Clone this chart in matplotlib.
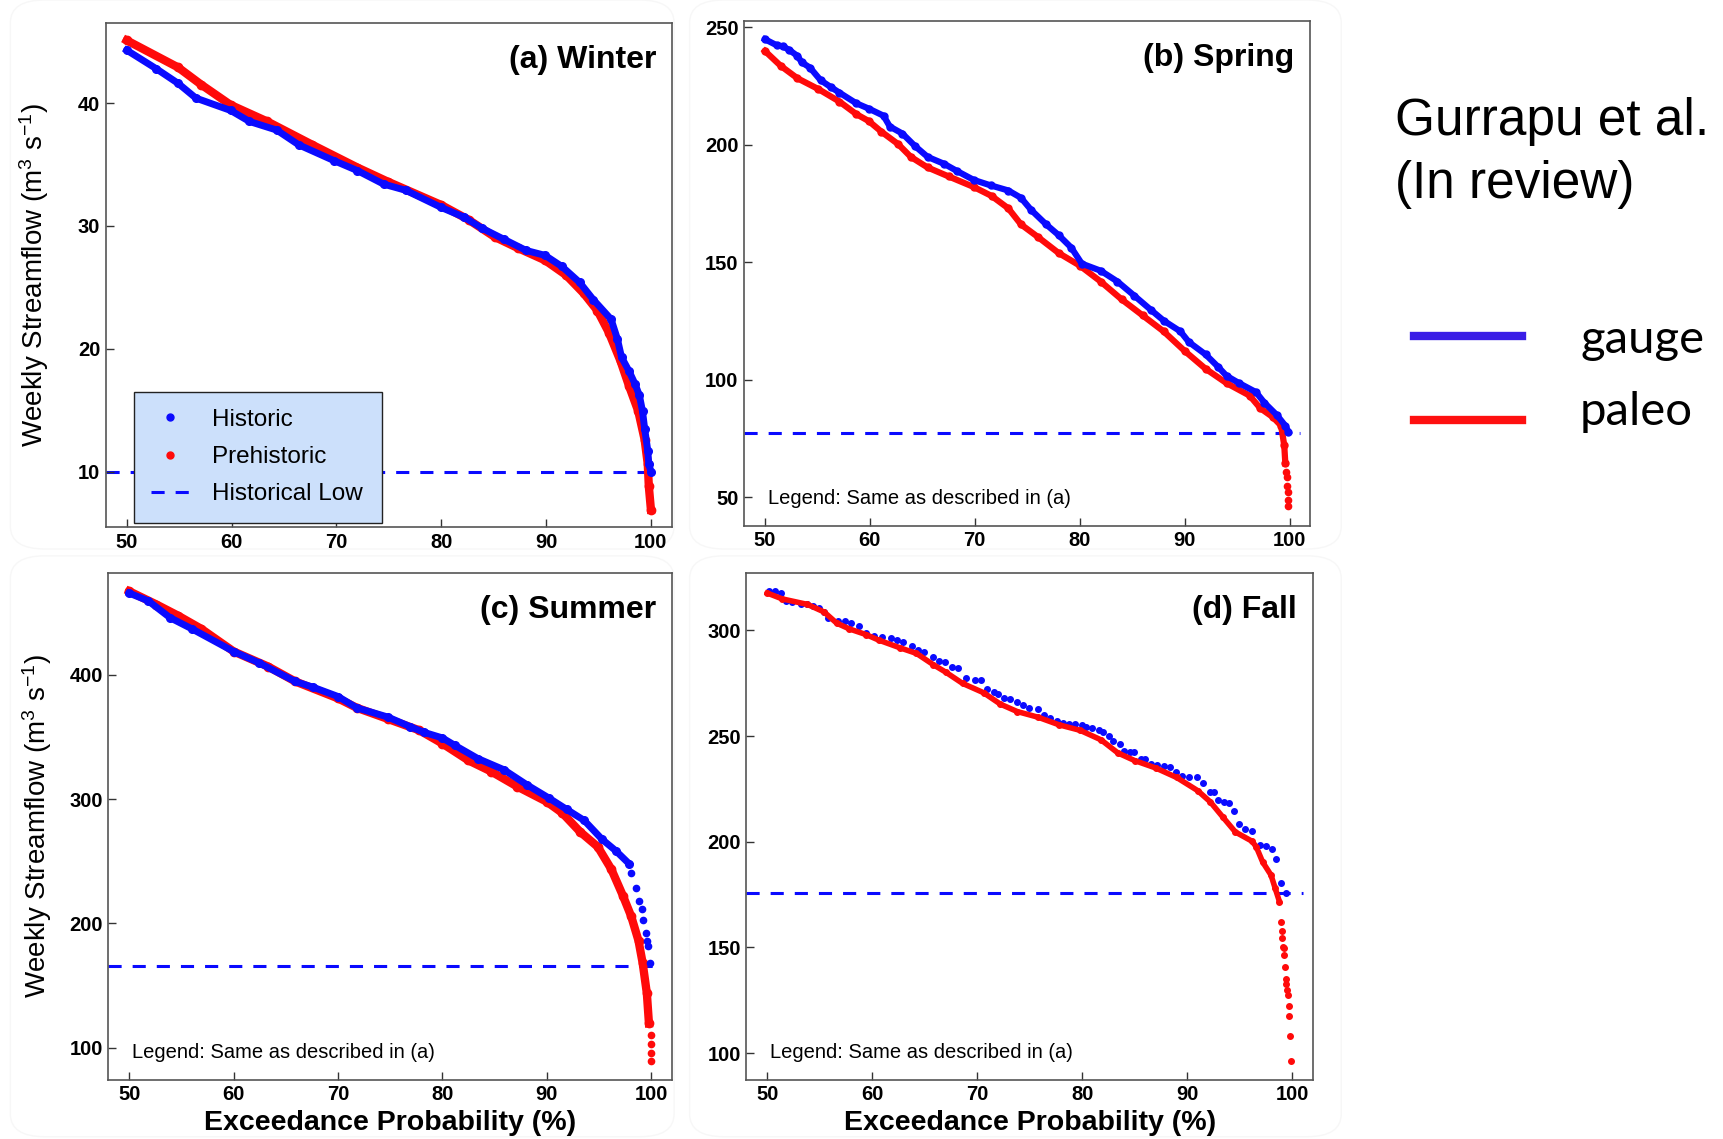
import matplotlib
matplotlib.use('Agg')
import matplotlib.pyplot as plt
from matplotlib.lines import Line2D
from matplotlib.patches import FancyBboxPatch

plt.rcParams['font.family'] = ['Liberation Sans', 'DejaVu Sans']
plt.rcParams['mathtext.fontset'] = 'custom'
plt.rcParams['mathtext.rm'] = 'Liberation Sans'
plt.rcParams['mathtext.it'] = 'Liberation Sans:italic'
plt.rcParams['mathtext.bf'] = 'Liberation Sans:bold'

BLUE = '#0a0aff'
RED = '#ff0a0a'

# ---- (a) Winter ----
winter_red_x = [50, 54.9, 57.1, 59.9, 63.4, 67.7, 72.0, 74.9, 80, 82.6, 85.1, 87.3, 89.9, 91.9,
                93.6, 94.9, 96.0, 97.1, 97.9, 98.8, 99.4, 99.7, 99.8, 100]
winter_red_y = [45.1, 42.9, 41.5, 39.85, 38.5, 36.6, 34.75, 33.6, 31.7, 30.5, 29.1, 28.2, 27.2, 26.0,
                24.5, 23.1, 21.3, 19.0, 17.0, 14.9, 12.6, 10.6, 8.8, 6.9]
winter_blue_x = [50, 52.8, 54.9, 56.6, 59.9, 61.7, 64.3, 66.4, 69.8, 72.0, 74.5, 76.6, 80, 82.2,
                 83.9, 86.0, 88.1, 89.9, 91.5, 93.2, 94.5, 96.2, 96.8, 97.2, 97.9, 98.5, 98.9,
                 99.2, 99.4, 99.7, 99.8, 100]
winter_blue_y = [44.3, 42.8, 41.6, 40.4, 39.4, 38.5, 37.8, 36.6, 35.3, 34.5, 33.4, 32.9, 31.5, 30.7,
                 29.8, 28.9, 28.0, 27.6, 26.7, 25.4, 24.0, 22.4, 20.8, 19.3, 18.2, 17.1, 16.2,
                 14.9, 13.5, 11.7, 10.6, 10.0]
winter_low = 10.0

# ---- (b) Spring ----
spring_blue_x = [50, 51.1, 51.7, 52.3, 53.1, 53.5, 54.3, 55.3, 56.3, 57.1, 58.7, 59.9, 61.3, 61.9,
                 63.1, 64.3, 65.5, 67.1, 68.3, 69.9, 71.5, 73.2, 74.4, 75.4, 76.8, 78.0, 79.2,
                 80.2, 82.0, 83.6, 85.2, 86.8, 88.0, 89.6, 90.4, 92.0, 93.2, 94.0, 95.2, 96.8,
                 97.6, 98.8, 99.6, 99.9]
spring_blue_y = [244.8, 242.3, 241.8, 240.3, 237.7, 235.0, 232.7, 227.4, 224.4, 222.1, 217.6, 215.3,
                 212.3, 207.7, 204.7, 199.4, 194.8, 191.8, 188.8, 185.0, 182.7, 180.5, 177.4,
                 172.1, 166.1, 161.5, 156.2, 149.4, 146.4, 141.8, 135.8, 129.7, 125.2, 120.6,
                 116.1, 110.8, 105.5, 101.7, 98.6, 94.8, 90.3, 85.0, 80.5, 77.9]
spring_red_x = [50, 51.5, 53.1, 55.1, 57.1, 58.7, 59.9, 61.1, 62.7, 63.9, 65.5, 67.5, 69.9, 71.6,
                73.2, 74.4, 76.0, 78.0, 80.0, 82.0, 84.0, 86.0, 88.0, 90.0, 92.0, 94.0, 96.2,
                97.2, 98.4, 99.2, 99.5, 99.6]
spring_red_y = [239.8, 233.5, 228.2, 223.6, 218.3, 213.0, 210.0, 205.5, 200.2, 194.8, 190.3, 186.5,
                182.0, 178.2, 172.9, 166.1, 160.8, 153.9, 148.6, 141.8, 134.2, 127.4, 120.6,
                112.3, 104.7, 98.6, 93.3, 88.0, 84.2, 80.5, 72.1, 64.5]
spring_red_tail_x = [99.7, 99.75, 99.8, 99.85, 99.9, 99.9]
spring_red_tail_y = [61.0, 58.5, 55.0, 52.4, 49.0, 46.4]
spring_low = 77.3

# ---- (c) Summer ----
summer_red_x = [50, 52.6, 54.7, 56.9, 60, 63.3, 65.9, 70, 71.8, 74.8, 77.8, 80, 82.5, 84.7, 87.2,
                90, 91.5, 93.2, 94.9, 96.2, 97.3, 98.1, 98.8, 99.2, 99.6, 99.8]
summer_red_y = [467.1, 456.5, 447.4, 436.9, 418.7, 406.6, 394.6, 381.0, 373.4, 364.4, 355.3, 344.7,
                331.1, 322.1, 310.0, 297.9, 288.8, 273.7, 261.6, 243.5, 222.4, 205.7, 186.1,
                168.0, 143.8, 119.6]
summer_red_tail_x = [99.96, 100, 100, 100]
summer_red_tail_y = [110.6, 103.0, 95.5, 89.4]
summer_blue_x = [50, 51.8, 53.9, 56.0, 60, 62.4, 65.9, 67.6, 70, 71.8, 74.8, 76.9, 78.2, 80, 81.2,
                 83.4, 85.9, 88.1, 90.2, 91.9, 93.6, 95.3, 96.6, 97.9]
summer_blue_y = [465.6, 459.5, 445.9, 436.9, 418.7, 409.7, 394.6, 390.0, 382.5, 373.4, 365.9, 358.3,
                 353.8, 349.2, 343.2, 332.6, 323.6, 311.5, 300.9, 291.8, 282.8, 267.7, 258.6, 248.0]
summer_blue_tail_x = [98.12, 98.55, 98.89, 99.10, 99.27, 99.49, 99.62, 99.70, 99.87]
summer_blue_tail_y = [240.5, 228.4, 217.8, 211.8, 202.7, 192.1, 186.1, 181.6, 168.0]
summer_low = 165.8

# ---- (d) Fall ----
fall_blue_x = [50.16, 50.76, 51.28, 51.76, 52.36, 53.16, 53.76, 54.36, 54.88, 55.36, 55.76, 56.76,
               57.36, 57.96, 58.76, 59.36, 60.16, 60.88, 61.76, 62.36, 62.96, 63.76, 64.36, 64.96,
               65.76, 66.36, 66.88, 67.56, 68.16, 68.96, 69.76, 70.36, 70.96, 71.56, 71.96, 72.56,
               73.16, 73.76, 74.36, 74.96, 75.76, 76.36, 76.96, 77.56, 78.16, 78.76, 79.36, 79.96,
               80.36, 80.96, 81.56, 81.96, 82.56, 82.96, 83.56, 83.96, 84.56, 84.96, 85.56, 85.96,
               86.56, 87.16, 87.76, 88.36, 88.96, 89.56, 90.16, 90.96, 91.56, 92.16, 92.56, 92.96,
               93.56, 93.96, 94.48, 94.96, 95.56, 96.16, 96.96, 97.56, 98.08, 98.48, 98.96, 99.44]
fall_blue_y = [318.5, 318.5, 317.6, 314.1, 313.2, 312.6, 312.3, 311.4, 310.5, 308.7, 306.0, 304.3,
               304.3, 303.4, 302.1, 298.6, 297.5, 296.8, 296.3, 295.4, 294.5, 292.7, 290.9, 290.0,
               287.4, 285.6, 285.1, 282.9, 282.4, 277.6, 276.7, 276.3, 272.2, 270.8, 270.1, 267.8,
               267.3, 266.0, 264.6, 263.3, 262.8, 259.8, 258.5, 257.1, 256.2, 255.9, 255.7, 255.3,
               254.4, 253.6, 252.7, 252.1, 250.0, 247.7, 246.4, 242.9, 242.5, 242.5, 239.3, 239.0,
               237.0, 236.3, 235.8, 235.2, 233.1, 231.3, 230.8, 230.4, 227.8, 223.3, 223.3, 219.8,
               218.9, 218.5, 214.4, 208.2, 206.0, 205.0, 198.4, 197.9, 196.6, 191.8, 180.6, 175.6]
fall_red_x = [50, 51.4, 53.8, 55.4, 56.6, 57.8, 59.4, 60.6, 62.6, 64.2, 65.8, 67.0, 68.6, 70.6, 72.2,
              73.8, 75.8, 77.8, 79.8, 81.8, 83.4, 85.0, 87.0, 89.0, 91.0, 92.2, 93.4, 94.6, 96.2,
              96.6, 97.2, 98.0, 98.4, 98.8]
fall_red_y = [317.6, 314.9, 312.3, 308.7, 303.4, 300.7, 298.0, 295.4, 291.8, 289.1, 283.8, 280.2,
              274.9, 270.5, 265.1, 261.6, 258.9, 255.3, 252.7, 248.2, 242.0, 238.4, 234.9, 230.4,
              224.2, 218.9, 211.7, 204.6, 200.2, 197.5, 190.4, 184.2, 177.9, 171.7]
fall_red_tail_x = [98.96, 99.04, 99.08, 99.16, 99.24, 99.28, 99.36, 99.4, 99.44, 99.52, 99.6,
                   99.68, 99.76, 99.84, 99.92]
fall_red_tail_y = [161.9, 157.8, 154.4, 150.4, 149.5, 146.3, 140.6, 135.2, 132.6, 129.9, 127.6,
                   122.4, 117.4, 108.0, 96.1]
fall_low = 175.7

x_ticks = [50, 60, 70, 80, 90, 100]
ylabel = 'Weekly Streamflow (m$^{3}$ s$^{-1}$)'
xlabel = 'Exceedance Probability (%)'
note = 'Legend: Same as described in (a)'

fig = plt.figure(figsize=(17.24, 11.39), dpi=100)

# very faint panel frames
for (x0, y0, w, h) in [(0.006, 0.518, 0.385, 0.482), (0.400, 0.518, 0.378, 0.482),
                       (0.006, 0.002, 0.385, 0.510), (0.400, 0.002, 0.378, 0.510)]:
    fig.add_artist(FancyBboxPatch((x0, y0), w, h, boxstyle='round,pad=0,rounding_size=0.02',
                                  transform=fig.transFigure, facecolor='none',
                                  edgecolor='#f7f7f7', lw=1.0, zorder=0))

ax_a = fig.add_axes([0.06137, 0.53688, 0.32836, 0.44276])
ax_b = fig.add_axes([0.43155, 0.53846, 0.32860, 0.44337])
ax_c = fig.add_axes([0.06293, 0.05206, 0.32680, 0.44460])
ax_d = fig.add_axes([0.43300, 0.05206, 0.32860, 0.44460])


def style_axes(ax, ylim, yticks, title):
    ax.set_xlim(48, 102)
    ax.set_ylim(*ylim)
    ax.set_xticks(x_ticks)
    ax.set_yticks(yticks)
    ax.tick_params(direction='in', length=6, width=1, color='#333333', labelsize=14.5, pad=4)
    for lab in ax.get_xticklabels() + ax.get_yticklabels():
        lab.set_fontweight('bold')
    for sp in ax.spines.values():
        sp.set_color('#555555')
        sp.set_linewidth(1.2)
    ax.text(1 - 16 / 566, 1 - 37 / 505, title, transform=ax.transAxes, ha='right',
            va='center', fontsize=23, fontweight='bold')


def draw_low(ax, low):
    ax.hlines(low, 48, 101, colors=BLUE, linestyles=(0, (4.3, 3.6)), lw=2.2, zorder=1)


# (a)
draw_low(ax_a, winter_low)
ax_a.plot(winter_red_x, winter_red_y, color=RED, lw=6, marker='o', ms=6, zorder=2)
ax_a.plot(winter_blue_x, winter_blue_y, color=BLUE, lw=5, marker='o', ms=5.5, zorder=3)
style_axes(ax_a, (5.45, 46.5), [10, 20, 30, 40], '(a) Winter')
handles = [Line2D([], [], ls='none', marker='o', color=BLUE, ms=5),
           Line2D([], [], ls='none', marker='o', color=RED, ms=5),
           Line2D([], [], color=BLUE, lw=2.2, ls=(0, (4.3, 3.6)))]
leg = ax_a.legend(handles, ['Historic', 'Prehistoric', 'Historical Low'], loc='lower left',
                  bbox_to_anchor=(0.0498, 0.0099, 0.438, 0.257), mode='expand', fontsize=17.5,
                  frameon=True, fancybox=False, facecolor='#cce0fb', edgecolor='#222222',
                  framealpha=1, borderpad=0.7, labelspacing=0.63, handlelength=1.6,
                  handletextpad=0.9, borderaxespad=0)
leg.get_frame().set_linewidth(1)
leg.set_zorder(5)

# (b)
draw_low(ax_b, spring_low)
ax_b.plot(spring_red_x, spring_red_y, color=RED, lw=4.5, marker='o', ms=5, zorder=2)
ax_b.plot(spring_red_tail_x, spring_red_tail_y, ls='none', color=RED, marker='o', ms=4.5, zorder=2)
ax_b.plot(spring_blue_x, spring_blue_y, color=BLUE, lw=4.5, marker='o', ms=5, zorder=3)
style_axes(ax_b, (38, 252.7), [50, 100, 150, 200, 250], '(b) Spring')

# (c)
draw_low(ax_c, summer_low)
ax_c.plot(summer_red_x, summer_red_y, color=RED, lw=6, marker='o', ms=6, zorder=2)
ax_c.plot(summer_red_tail_x, summer_red_tail_y, ls='none', color=RED, marker='o', ms=4.5, zorder=2)
ax_c.plot(summer_blue_x, summer_blue_y, color=BLUE, lw=5, marker='o', ms=5.5, zorder=3)
ax_c.plot(summer_blue_tail_x, summer_blue_tail_y, ls='none', color=BLUE, marker='o', ms=4.5, zorder=3)
style_axes(ax_c, (74.3, 481.6), [100, 200, 300, 400], '(c) Summer')

# (d)
draw_low(ax_d, fall_low)
ax_d.plot(fall_blue_x, fall_blue_y, ls='none', color=BLUE, marker='o', ms=4, zorder=2)
ax_d.plot(fall_red_x, fall_red_y, color=RED, lw=4, marker='o', ms=4, zorder=3)
ax_d.plot(fall_red_tail_x, fall_red_tail_y, ls='none', color=RED, marker='o', ms=4, zorder=3)
style_axes(ax_d, (87.4, 327), [100, 150, 200, 250, 300], '(d) Fall')

for ax in (ax_b, ax_c, ax_d):
    ax.text(0.042, 0.053, note, transform=ax.transAxes, ha='left', va='center', fontsize=14.5)

for ax in (ax_a, ax_c):
    ax.set_ylabel(ylabel, fontsize=20, va='center')
    ax.yaxis.set_label_coords(-0.126, 0.5)
for ax in (ax_c, ax_d):
    ax.set_xlabel(xlabel, fontsize=20.5, fontweight='bold', va='center')
    ax.xaxis.set_label_coords(0.5, -0.085)

# right-hand annotation
fig.text(0.8091, 0.8815, 'Gurrapu et al.', fontsize=37, ha='left', va='baseline')
fig.text(0.8091, 0.8259, '(In review)', fontsize=37, ha='left', va='baseline')
fig.add_artist(Line2D([0.8202, 0.8828], [0.7050, 0.7050], transform=fig.transFigure,
                      color='#3a1ee6', lw=6))
fig.add_artist(Line2D([0.8202, 0.8828], [0.6313, 0.6313], transform=fig.transFigure,
                      color='#fe1010', lw=6))
fig.text(0.9165, 0.6901, 'gauge', fontsize=34, family=['Lato', 'DejaVu Sans'], ha='left', va='baseline')
fig.text(0.9165, 0.6269, 'paleo', fontsize=34, family=['Lato', 'DejaVu Sans'], ha='left', va='baseline')

fig.savefig('out.png', dpi=100, facecolor='white')
